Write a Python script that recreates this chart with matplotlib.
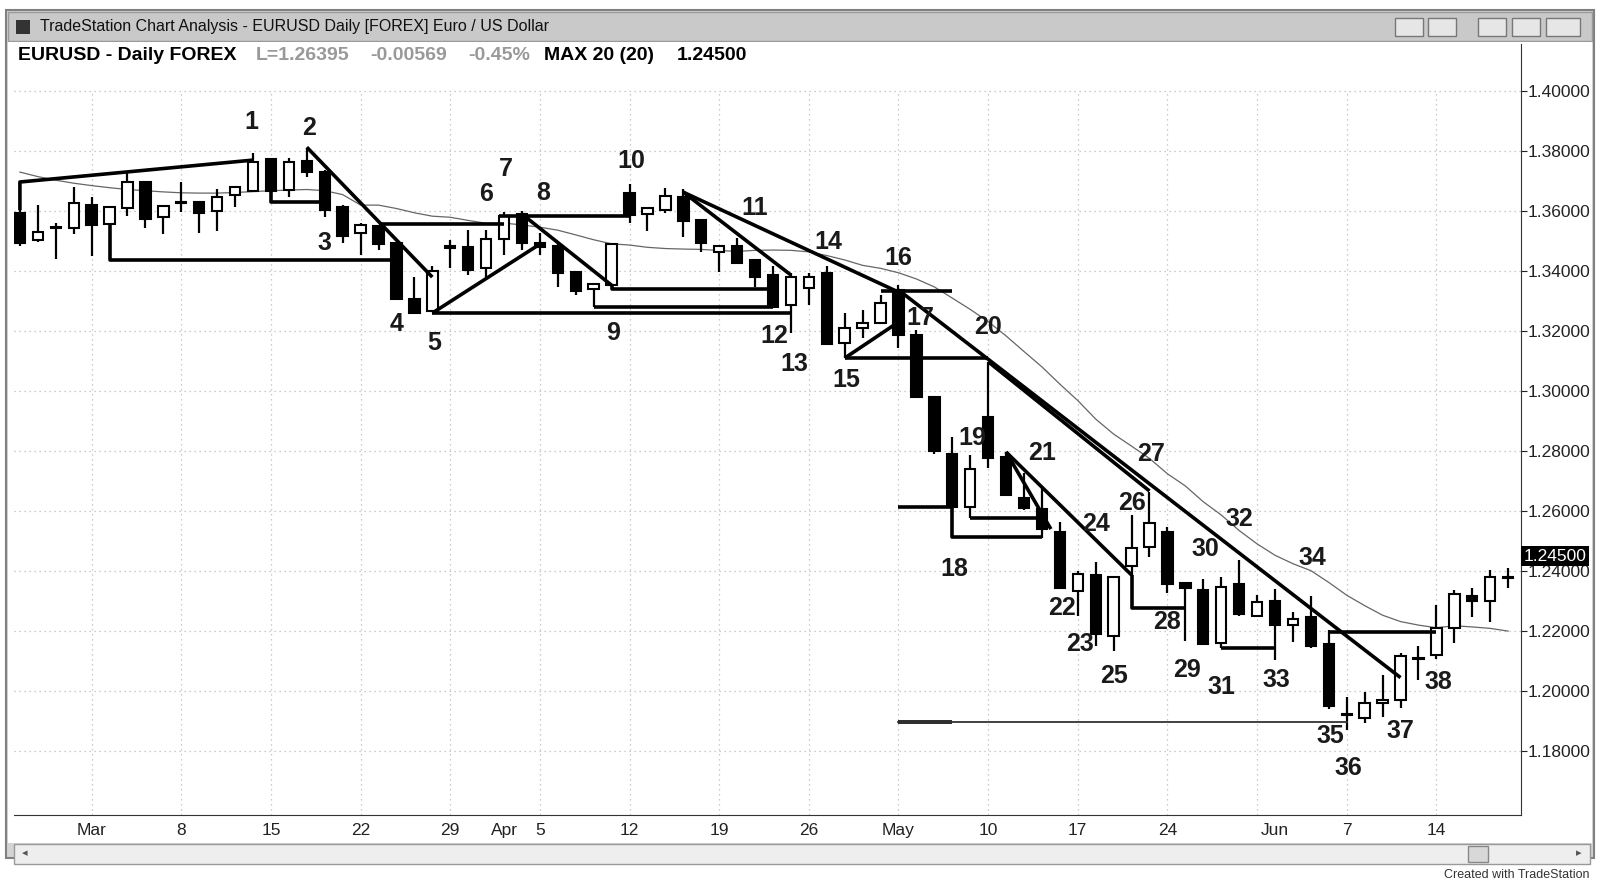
import numpy as np
import pandas as pd
import matplotlib
matplotlib.use("Agg")
import matplotlib.pyplot as plt
from matplotlib.patches import Rectangle

plt.rcParams['font.family'] = ['Liberation Sans', 'DejaVu Sans']

# daily OHLC, Feb 23 .. Jun 18 2010 (Good Friday skipped)
opens = [1.3593, 1.3505, 1.3543, 1.3543, 1.3620, 1.3556, 1.3610, 1.3698, 1.3579, 1.3628,
         1.3630, 1.3599, 1.3653, 1.3667, 1.3775, 1.3671, 1.3768, 1.3732, 1.3613, 1.3528,
         1.3549, 1.3494, 1.3306, 1.3268, 1.3478, 1.3480, 1.3410, 1.3508, 1.3590, 1.3494,
         1.3484, 1.3397, 1.3340, 1.3353, 1.3662, 1.3590, 1.3604, 1.3647, 1.3571, 1.3463,
         1.3484, 1.3437, 1.3386, 1.3286, 1.3343, 1.3393, 1.3161, 1.3209, 1.3226, 1.3338,
         1.3186, 1.2982, 1.2792, 1.2613, 1.2914, 1.2779, 1.2643, 1.2606, 1.2529, 1.2335,
         1.2386, 1.2185, 1.2416, 1.2480, 1.2529, 1.2362, 1.2338, 1.2160, 1.2358, 1.2252,
         1.2299, 1.2219, 1.2246, 1.2158, 1.1921, 1.1911, 1.1962, 1.1972, 1.2108, 1.2121,
         1.2212, 1.2316, 1.2299, 1.2376]
highs = [1.3603, 1.3620, 1.3560, 1.3681, 1.3647, 1.3616, 1.3727, 1.3702, 1.3618, 1.3697,
         1.3633, 1.3673, 1.3685, 1.3795, 1.3778, 1.3778, 1.3812, 1.3738, 1.3620, 1.3559,
         1.3555, 1.3496, 1.3380, 1.3416, 1.3504, 1.3538, 1.3538, 1.3597, 1.3600, 1.3528,
         1.3496, 1.3397, 1.3357, 1.3494, 1.3691, 1.3614, 1.3677, 1.3673, 1.3574, 1.3484,
         1.3511, 1.3437, 1.3416, 1.3393, 1.3393, 1.3416, 1.3259, 1.3269, 1.3320, 1.3353,
         1.3203, 1.2982, 1.2846, 1.2786, 1.3098, 1.2796, 1.2727, 1.2677, 1.2563, 1.2402,
         1.2430, 1.2379, 1.2587, 1.2664, 1.2546, 1.2365, 1.2375, 1.2382, 1.2436, 1.2319,
         1.2341, 1.2263, 1.2316, 1.2205, 1.1979, 1.1996, 1.2054, 1.2128, 1.2149, 1.2286,
         1.2336, 1.2343, 1.2404, 1.2410]
lows = [1.3483, 1.3496, 1.3440, 1.3525, 1.3450, 1.3556, 1.3583, 1.3543, 1.3523, 1.3596,
        1.3528, 1.3533, 1.3613, 1.3667, 1.3667, 1.3647, 1.3713, 1.3579, 1.3494, 1.3455,
        1.3469, 1.3303, 1.3259, 1.3268, 1.3410, 1.3387, 1.3380, 1.3453, 1.3470, 1.3453,
        1.3347, 1.3320, 1.3280, 1.3353, 1.3560, 1.3535, 1.3594, 1.3514, 1.3463, 1.3397,
        1.3424, 1.3347, 1.3276, 1.3193, 1.3286, 1.3158, 1.3109, 1.3176, 1.3226, 1.3145,
        1.2976, 1.2792, 1.2613, 1.2576, 1.2745, 1.2653, 1.2603, 1.2512, 1.2345, 1.2251,
        1.2150, 1.2133, 1.2379, 1.2447, 1.2328, 1.2167, 1.2154, 1.2143, 1.2252, 1.2252,
        1.2103, 1.2164, 1.2144, 1.1942, 1.1870, 1.1893, 1.1914, 1.1945, 1.2036, 1.2108,
        1.2159, 1.2246, 1.2232, 1.2343]
closes = [1.3494, 1.3532, 1.3545, 1.3627, 1.3553, 1.3613, 1.3698, 1.3573, 1.3616, 1.3631,
          1.3593, 1.3647, 1.3680, 1.3764, 1.3667, 1.3762, 1.3732, 1.3603, 1.3518, 1.3553,
          1.3492, 1.3306, 1.3261, 1.3399, 1.3481, 1.3403, 1.3508, 1.3584, 1.3494, 1.3480,
          1.3393, 1.3333, 1.3357, 1.3491, 1.3587, 1.3611, 1.3650, 1.3568, 1.3494, 1.3484,
          1.3427, 1.3380, 1.3279, 1.3380, 1.3380, 1.3158, 1.3212, 1.3226, 1.3294, 1.3186,
          1.2979, 1.2802, 1.2613, 1.2739, 1.2776, 1.2653, 1.2610, 1.2542, 1.2345, 1.2389,
          1.2191, 1.2379, 1.2477, 1.2560, 1.2358, 1.2345, 1.2157, 1.2348, 1.2257, 1.2296,
          1.2219, 1.2239, 1.2151, 1.1952, 1.1923, 1.1959, 1.1972, 1.2118, 1.2110, 1.2212,
          1.2323, 1.2302, 1.2380, 1.2380]

# 20-day average as drawn for the first 19 bars (earlier history not shown)
ma_start = [1.3730, 1.3715, 1.3703, 1.3693, 1.3685, 1.3678, 1.3672, 1.3668, 1.3664, 1.3661,
            1.3660, 1.3660, 1.3662, 1.3665, 1.3668, 1.3670, 1.3672, 1.3668, 1.3655]

# date axis: bar index of each label
date_pos = [4, 9, 14, 19, 24, 27, 29, 34, 39, 44, 49, 54, 59, 64, 70, 74, 79]
date_labels = ["Mar", "8", "15", "22", "29", "Apr", "5", "12", "19", "26",
               "May", "10", "17", "24", "Jun", "7", "14"]
grid_days = [4, 9, 14, 19, 24, 29, 34, 39, 44, 49, 54, 59, 64, 69, 74, 79]
price_ticks = [1.18, 1.20, 1.22, 1.24, 1.26, 1.28, 1.30, 1.32, 1.34, 1.36, 1.38, 1.40]

# hand-drawn analysis lines (bar index, price) polylines
thick_lines = [
    [(0, 1.3603), (0, 1.3697), (13, 1.3770)],
    [(5, 1.3556), (5, 1.3437), (21, 1.3437)],
    [(14, 1.3667), (14, 1.3630), (17, 1.3630)],
    [(16, 1.3813), (23, 1.3380)],
    [(20, 1.3557), (27, 1.3557)],
    [(26.7, 1.3585), (34, 1.3585)],
    [(23, 1.3260), (29, 1.3490)],
    [(23, 1.3260), (43, 1.3260)],
    [(28, 1.3590), (33, 1.3353)],
    [(33, 1.3353), (33, 1.3340), (42, 1.3340)],
    [(32, 1.3280), (42, 1.3280)],
    [(37, 1.3663), (43, 1.3387)],
    [(37, 1.3663), (49, 1.3330)],
    [(48, 1.3335), (52, 1.3335)],
    [(46, 1.3110), (49, 1.3230)],
    [(46, 1.3110), (54, 1.3110)],
    [(49, 1.3337), (77, 1.2045)],
    [(54, 1.3098), (63, 1.2667)],
    [(49, 1.2613), (52, 1.2613)],
    [(52, 1.2613), (52, 1.2513), (57, 1.2513)],
    [(53, 1.2576), (57, 1.2576)],
    [(55, 1.2797), (57.5, 1.2540)],
    [(55, 1.2797), (62, 1.2387)],
    [(62, 1.2387), (62, 1.2277), (65, 1.2277)],
    [(67, 1.2143), (70, 1.2143)],
    [(73, 1.2197), (79, 1.2197)],
    [(49, 1.1897), (52, 1.1897)],
]
thin_lines = [[(49, 1.1897), (74, 1.1897)]]

label_text = [str(n) for n in range(1, 39)]
label_x = [12.9, 16.1, 17.0, 21.0, 23.1, 26.0, 27.1, 29.2, 33.1, 34.1, 41.0, 42.1, 43.2,
           45.1, 46.1, 49.0, 50.2, 52.1, 53.1, 54.0, 57.0, 58.1, 59.1, 60.0, 61.0, 62.0,
           63.1, 64.0, 65.1, 66.1, 67.0, 68.0, 70.1, 72.1, 73.1, 74.1, 77.0, 79.1]
label_y = [1.3897, 1.3877, 1.3493, 1.3223, 1.3160, 1.3657, 1.3740, 1.3660, 1.3193, 1.3767,
           1.3610, 1.3183, 1.3090, 1.3497, 1.3037, 1.3443, 1.3243, 1.2407, 1.2843, 1.3213,
           1.2793, 1.2277, 1.2157, 1.2557, 1.2050, 1.2627, 1.2790, 1.2230, 1.2070, 1.2473,
           1.2013, 1.2573, 1.2037, 1.2443, 1.1850, 1.1743, 1.1867, 1.2030]

W, H = 1600, 883
fig = plt.figure(figsize=(16, 8.83), dpi=100)
fig.patch.set_facecolor("white")

def fx(px):
    return px / W

def fy(py):
    return 1 - py / H

def chrome(x, y_bottom, w, h, **kw):
    fig.add_artist(Rectangle((fx(x), fy(y_bottom)), fx(w), h / H,
                             transform=fig.transFigure, zorder=-5, **kw))

# window chrome
chrome(6, 858, 1588, 848, facecolor="#d4d4d4", edgecolor="#808080", lw=1.5)
chrome(8, 41, 1584, 29, facecolor="#c9c9c9", edgecolor="#9a9a9a", lw=1)
chrome(16, 34, 14, 14, facecolor="#333333", edgecolor="none")
chrome(8, 843, 1584, 801, facecolor="white", edgecolor="none")
for bx, bw_ in [(1395, 28), (1428, 28), (1478, 28), (1512, 28), (1546, 34)]:
    chrome(bx, 36, bw_, 18, facecolor="#e6e6e6", edgecolor="#777777", lw=1)
# scrollbar
chrome(14, 864, 1576, 20, facecolor="#eeeeee", edgecolor="#999999", lw=1)
chrome(1468, 862, 20, 16, facecolor="#d8d8d8", edgecolor="#888888", lw=1)
fig.text(fx(40), fy(27), "TradeStation Chart Analysis - EURUSD Daily [FOREX] Euro / US Dollar",
         fontsize=11.5, va="center", ha="left", color="#111111")
fig.text(fx(22), fy(853), "◂", fontsize=8, va="center", color="#555555")
fig.text(fx(1576), fy(853), "▸", fontsize=8, va="center", color="#555555")
fig.text(fx(1590), fy(875), "Created with TradeStation", fontsize=9, va="center",
         ha="right", color="#333333")

ax = fig.add_axes([fx(14), fy(815), fx(1521 - 14), (815 - 44) / H])
ax.set_facecolor("white")
ax.set_xlim(-0.33, 83.72)
ax.set_ylim(1.1587, 1.4157)

for p in price_ticks:
    ax.axhline(p, color="#bbbbbb", lw=0.9, ls=(0, (1, 3)), zorder=0)
for d in grid_days:
    ax.axvline(d, ymax=0.94, color="#bbbbbb", lw=0.9, ls=(0, (1, 3)), zorder=0)

# 20-day average: chart values for the first bars, then rolling mean of closes
ma = pd.Series(closes).rolling(20, min_periods=20).mean()
ma.iloc[:len(ma_start)] = ma_start
ax.plot(range(len(closes)), ma, color="#666666", lw=0.9, zorder=2)

bw = 0.58
for i, (o, h, l, c) in enumerate(zip(opens, highs, lows, closes)):
    ax.plot([i, i], [l, h], color="black", lw=1.6, zorder=3, solid_capstyle="butt")
    lo, hi = min(o, c), max(o, c)
    body = max(hi - lo, 0.0004)
    ax.add_patch(Rectangle((i - bw / 2, lo), bw, body,
                           facecolor="black" if c < o else "white",
                           edgecolor="black", lw=1.5, zorder=4))

for seg in thick_lines:
    xs, ys = zip(*seg)
    ax.plot(xs, ys, color="black", lw=2.6, zorder=5, solid_capstyle="butt")
for seg in thin_lines:
    xs, ys = zip(*seg)
    ax.plot(xs, ys, color="#333333", lw=1.3, zorder=5)

for t, x, y in zip(label_text, label_x, label_y):
    ax.text(x, y, t, fontsize=18, fontweight="bold", ha="center", va="center",
            color="#1a1a1a", zorder=6)

ax.yaxis.tick_right()
ax.set_yticks(price_ticks)
ax.set_yticklabels([f"{p:.5f}" for p in price_ticks])
ax.tick_params(axis="y", direction="out", length=4, labelsize=12.5, pad=1, colors="#222222")
ax.set_xticks(date_pos)
ax.set_xticklabels(date_labels)
ax.tick_params(axis="x", length=0, labelsize=12.5, pad=6, colors="#222222")
for s in ["top", "left"]:
    ax.spines[s].set_visible(False)
ax.spines["right"].set_color("#333333")
ax.spines["bottom"].set_color("#333333")

# last price marker on the scale
ax.text(1.0015, 1.2450, "1.24500", transform=ax.get_yaxis_transform(), fontsize=12.5,
        color="white", va="center", ha="left",
        bbox=dict(boxstyle="square,pad=0.15", facecolor="black", edgecolor="none"))

# header line
hy = fy(56)
hdr = [(18, "EURUSD - Daily FOREX", "black"), (256, "L=1.26395", "#999999"),
       (370, "-0.00569", "#999999"), (468, "-0.45%", "#999999"),
       (544, "MAX 20 (20)", "black"), (677, "1.24500", "black")]
for px, txt, col in hdr:
    fig.text(fx(px), hy, txt, fontsize=14, fontweight="bold", color=col, va="center")

fig.savefig("out.png", dpi=100)
